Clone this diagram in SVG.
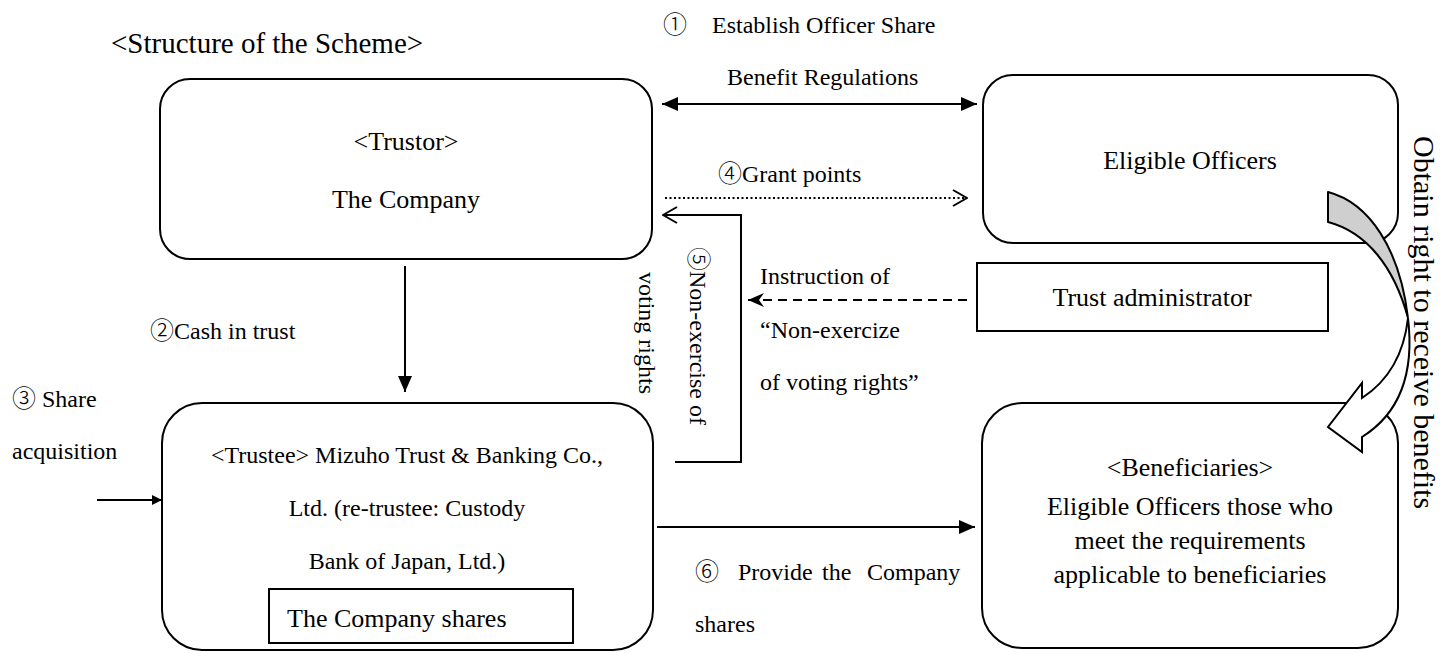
<svg xmlns="http://www.w3.org/2000/svg" width="1451" height="653" viewBox="0 0 1451 653">
<style>
.box{fill:#fff;stroke:#000;stroke-width:2}
.t{font-family:"Liberation Serif",serif;fill:#000}
.n{font-family:"Noto Sans CJK JP","Noto Sans CJK SC",sans-serif;font-weight:300}
.b26{font-size:26px}
.b24{font-size:24px}
.m{text-anchor:middle}
.c{stroke:#000;stroke-width:2;fill:none}
</style>
<defs>
<marker id="af" markerUnits="userSpaceOnUse" viewBox="0 0 16 14" refX="16" refY="7" markerWidth="16" markerHeight="14" orient="auto-start-reverse"><path d="M0,0 L16,7 L0,14 Z" fill="#000"/></marker>
<marker id="as" markerUnits="userSpaceOnUse" viewBox="0 0 10 10" refX="10" refY="5" markerWidth="10" markerHeight="10" orient="auto"><path d="M0,0 L10,5 L0,10 Z" fill="#000"/></marker>
<marker id="ao" markerUnits="userSpaceOnUse" viewBox="-1 -1 16 18" refX="14" refY="8" markerWidth="16" markerHeight="18" orient="auto"><path d="M0,0 L14,8 L0,16" fill="none" stroke="#000" stroke-width="2"/></marker>
<marker id="ad" markerUnits="userSpaceOnUse" viewBox="0 0 16 14" refX="16" refY="7" markerWidth="16" markerHeight="14" orient="auto"><path d="M0,0 L16,7 L0,14 L5,7 Z" fill="#000"/></marker>
</defs>
<rect width="1451" height="653" fill="#fff"/>
<text class="t" x="111" y="53" font-size="29">&lt;Structure of the Scheme&gt;</text>

<g id="trustor">
<rect class="box" x="160" y="79" width="492" height="180" rx="30"/>
<text class="t b26 m" x="406" y="150">&lt;Trustor&gt;</text>
<text class="t b26 m" x="406" y="208">The Company</text>
</g>
<g id="eligible-officers">
<rect class="box" x="983" y="75" width="415" height="168" rx="30"/>
<text class="t b26 m" x="1190" y="169">Eligible Officers</text>
</g>
<g id="trust-administrator">
<rect class="box" x="977" y="263" width="351" height="68"/>
<text class="t b26 m" x="1152" y="306">Trust administrator</text>
</g>
<g id="trustee">
<rect class="box" x="162" y="403" width="491" height="247" rx="40"/>
<text class="t b24 m" x="407" y="463">&lt;Trustee&gt; Mizuho Trust &amp; Banking Co.,</text>
<text class="t b24 m" x="407" y="516">Ltd. (re-trustee: Custody</text>
<text class="t b24 m" x="407" y="569">Bank of Japan, Ltd.)</text>
<rect class="box" x="269" y="589" width="304" height="54"/>
<text class="t b26" x="287" y="627">The Company shares</text>
</g>
<g id="beneficiaries">
<rect class="box" x="982" y="403" width="416" height="245" rx="40"/>
<text class="t b26 m" x="1190" y="476">&lt;Beneficiaries&gt;</text>
<text class="t b26 m" x="1190" y="515">Eligible Officers those who</text>
<text class="t b26 m" x="1190" y="549">meet the requirements</text>
<text class="t b26 m" x="1190" y="583">applicable to beneficiaries</text>
</g>

<g id="connectors">
<line class="c" x1="662" y1="104" x2="977" y2="104" marker-start="url(#af)" marker-end="url(#af)"/>
<line class="c" x1="665" y1="198" x2="967" y2="198" stroke-dasharray="2 2.5" marker-end="url(#ao)"/>
<path class="c" d="M675,462 H741 V215 H663" marker-end="url(#ao)"/>
<line class="c" x1="967" y1="300" x2="748" y2="300" stroke-dasharray="9 6" marker-end="url(#ad)"/>
<line class="c" x1="405" y1="266" x2="405" y2="392" marker-end="url(#af)"/>
<line class="c" x1="97" y1="500" x2="162" y2="500" marker-end="url(#as)"/>
<line class="c" x1="657" y1="527" x2="975" y2="527" marker-end="url(#af)"/>
</g>

<g id="curved-arrow">
<path d="M1328,192 C1370,203 1400,250 1408,318 C1394,266 1366,232 1328,222 Z" fill="#cfcfcf" stroke="#000" stroke-width="2" stroke-linejoin="round"/>
<path d="M1408,318 Q1402,372 1362,398 L1362,383 L1328,427 L1362,452 L1362,437 Q1418,402 1408,318 Z" fill="#fff" stroke="#000" stroke-width="2" stroke-linejoin="miter"/>
</g>

<g id="labels">
<text class="t b24" x="663" y="33"><tspan class="n">①</tspan></text>
<text class="t b24" x="712" y="33">Establish Officer Share</text>
<text class="t b24" x="727" y="85">Benefit Regulations</text>
<text class="t b24" x="718" y="182"><tspan class="n">④</tspan>Grant points</text>
<text class="t b24" x="150" y="339"><tspan class="n">②</tspan>Cash in trust</text>
<text class="t b24" x="12" y="407"><tspan class="n">③</tspan> Share</text>
<text class="t b24" x="12" y="459">acquisition</text>
<text class="t b24" y="580"><tspan class="n" x="695">⑥</tspan><tspan x="738">Provide</tspan><tspan x="822">the</tspan><tspan x="867">Company</tspan></text>
<text class="t b24" x="695" y="632">shares</text>
<text class="t b24" x="760" y="284">Instruction of</text>
<text class="t b24" x="760" y="338">“Non-exercize</text>
<text class="t b24" x="760" y="390">of voting rights”</text>
<text class="t b24 m" transform="translate(690,336) rotate(90)"><tspan class="n">⑤</tspan>Non-exercise of</text>
<text class="t b24 m" transform="translate(639,333) rotate(90)">voting rights</text>
<text class="t" font-size="30" transform="translate(1414,136) rotate(90)">Obtain right to receive benefits</text>
</g>
</svg>
